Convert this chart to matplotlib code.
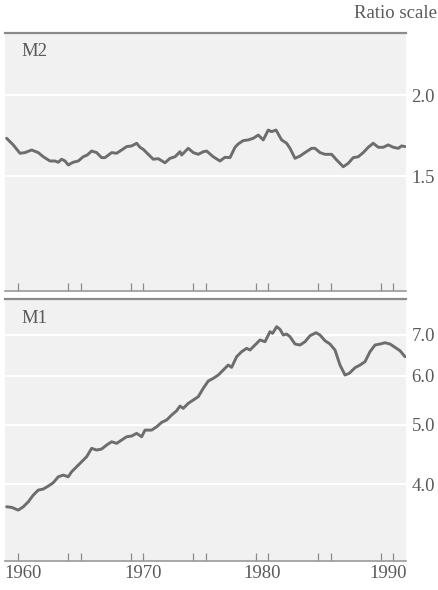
import matplotlib
matplotlib.use("Agg")
import matplotlib.pyplot as plt
from matplotlib.ticker import FixedLocator, NullFormatter, NullLocator

# Velocity of money, quarterly readings (ratio scale)
m2_years = [1959.07, 1959.60, 1960.14, 1960.54, 1961.07, 1961.60, 1962.00, 1962.54, 1962.94, 1963.20,
            1963.47, 1963.74, 1964.00, 1964.40, 1964.80, 1965.20, 1965.52, 1965.87, 1966.27, 1966.67,
            1966.94, 1967.47, 1967.87, 1968.27, 1968.67, 1969.07, 1969.47, 1969.74, 1970.00, 1970.40,
            1970.80, 1971.20, 1971.74, 1972.14, 1972.54, 1972.94, 1973.07, 1973.60, 1974.00, 1974.40,
            1974.80, 1975.07, 1975.60, 1976.14, 1976.54, 1976.94, 1977.34, 1977.60, 1978.00, 1978.40,
            1978.80, 1979.20, 1979.60, 1980.00, 1980.27, 1980.62, 1981.07, 1981.47, 1981.74, 1982.14,
            1982.54, 1982.94, 1983.47, 1983.74, 1984.14, 1984.54, 1985.07, 1985.47, 1986.00, 1986.40,
            1986.80, 1987.20, 1987.60, 1988.00, 1988.40, 1988.80, 1989.20, 1989.60, 1990.00, 1990.40,
            1990.67, 1990.94]
m2_velocity = [1.717, 1.677, 1.628, 1.632, 1.647, 1.632, 1.608, 1.584, 1.584, 1.577,
               1.594, 1.584, 1.562, 1.577, 1.584, 1.608, 1.618, 1.641, 1.632, 1.603,
               1.603, 1.632, 1.628, 1.647, 1.667, 1.671, 1.687, 1.663, 1.651, 1.622,
               1.594, 1.597, 1.574, 1.599, 1.608, 1.637, 1.618, 1.657, 1.632, 1.622,
               1.637, 1.641, 1.608, 1.584, 1.605, 1.603, 1.663, 1.683, 1.703, 1.707,
               1.717, 1.737, 1.707, 1.768, 1.758, 1.768, 1.707, 1.687, 1.657, 1.599,
               1.612, 1.632, 1.657, 1.657, 1.632, 1.622, 1.622, 1.590, 1.552, 1.571,
               1.603, 1.608, 1.632, 1.663, 1.687, 1.663, 1.663, 1.677, 1.663, 1.657,
               1.671, 1.667]

m1_years = [1959.07, 1959.47, 1960.00, 1960.40, 1960.80, 1961.20, 1961.60, 1962.00, 1962.40, 1962.80,
            1963.20, 1963.60, 1964.00, 1964.27, 1964.67, 1965.07, 1965.47, 1965.87, 1966.27, 1966.67,
            1967.07, 1967.47, 1967.87, 1968.27, 1968.67, 1969.07, 1969.47, 1969.87, 1970.14, 1970.67,
            1971.07, 1971.47, 1971.87, 1972.27, 1972.67, 1972.94, 1973.20, 1973.60, 1974.00, 1974.40,
            1974.80, 1975.20, 1975.60, 1976.00, 1976.40, 1976.80, 1977.07, 1977.47, 1977.87, 1978.27,
            1978.54, 1978.94, 1979.34, 1979.74, 1980.14, 1980.35, 1980.67, 1980.94, 1981.20, 1981.47,
            1981.74, 1982.14, 1982.54, 1982.94, 1983.34, 1983.82, 1984.14, 1984.54, 1984.94, 1985.34,
            1985.74, 1986.14, 1986.48, 1986.94, 1987.34, 1987.74, 1988.14, 1988.54, 1988.94, 1989.34,
            1989.74, 1990.14, 1990.54, 1990.94]
m1_velocity = [3.675, 3.667, 3.630, 3.675, 3.744, 3.839, 3.912, 3.927, 3.971, 4.021,
               4.112, 4.138, 4.112, 4.190, 4.269, 4.350, 4.432, 4.574, 4.545, 4.562,
               4.631, 4.688, 4.660, 4.718, 4.777, 4.789, 4.838, 4.777, 4.897, 4.897,
               4.958, 5.041, 5.085, 5.181, 5.265, 5.359, 5.312, 5.413, 5.481, 5.549,
               5.726, 5.885, 5.944, 6.018, 6.132, 6.248, 6.194, 6.446, 6.567, 6.651,
               6.609, 6.734, 6.862, 6.818, 7.078, 7.035, 7.212, 7.142, 6.991, 7.017,
               6.946, 6.759, 6.734, 6.818, 6.972, 7.051, 6.991, 6.843, 6.759, 6.609,
               6.248, 6.018, 6.057, 6.185, 6.248, 6.326, 6.567, 6.734, 6.759, 6.792,
               6.759, 6.676, 6.592, 6.446]

m2_ticks = [1.5, 2.0]
m1_ticks = [4.0, 5.0, 6.0, 7.0]
year_marks = [1960, 1964, 1965, 1969, 1970, 1974, 1975, 1979, 1980, 1984, 1985, 1989, 1990]
year_labels = ["1960", "1970", "1980", "1990"]
year_label_pos = [1960.4, 1970.0, 1979.5, 1989.6]

SERIF = ["Liberation Serif", "DejaVu Serif"]
TEXT = "#5a5a5a"
LINE = "#6d6d6d"
PANEL = "#f1f1f1"
FS = 13.5

W, H = 439, 590
fig = plt.figure(figsize=(W / 100, H / 100), dpi=100)
fig.patch.set_facecolor("white")

left, right = 5, 406
ax_top = fig.add_axes([left / W, 1 - 290.5 / H, (right - left) / W, 258 / H])
ax_bot = fig.add_axes([left / W, 1 - 561 / H, (right - left) / W, 262 / H])


def style_panel(ax, years, values, ylim, yticks, name, show_years):
    ax.set_facecolor(PANEL)
    ax.set_yscale("log")
    ax.set_ylim(*ylim)
    ax.set_xlim(1958.94, 1991.02)
    for v in yticks:
        ax.axhline(v, color="white", lw=1.6, zorder=1)
    ax.plot(years, values, color=LINE, lw=2.1, solid_joinstyle="round",
            solid_capstyle="round", zorder=3)

    for s in ("left", "right"):
        ax.spines[s].set_visible(False)
    ax.spines["top"].set_color("#8a8a8a")
    ax.spines["top"].set_linewidth(1.6)
    ax.spines["bottom"].set_color("#9a9a9a")
    ax.spines["bottom"].set_linewidth(1.2)

    ax.yaxis.tick_right()
    ax.yaxis.set_major_locator(FixedLocator(yticks))
    ax.yaxis.set_minor_locator(NullLocator())
    ax.set_yticklabels([f"{v:.1f}" for v in yticks])
    ax.tick_params(axis="y", which="both", length=0, pad=4, labelsize=FS, labelcolor=TEXT)
    for t in ax.get_yticklabels():
        t.set_fontfamily(SERIF)

    ax.xaxis.remove_overlapping_locs = False
    ax.xaxis.set_major_locator(FixedLocator(year_marks))
    ax.xaxis.set_major_formatter(NullFormatter())
    ax.tick_params(axis="x", which="major", direction="in", length=6, width=0.9,
                   color="#8a8a8a")
    if show_years:
        ax.xaxis.set_minor_locator(FixedLocator(year_label_pos))
        ax.set_xticklabels(year_labels, minor=True)
        ax.tick_params(axis="x", which="minor", length=0, pad=3, labelsize=FS,
                       labelcolor=TEXT)
        for t in ax.get_xticklabels(minor=True):
            t.set_fontfamily(SERIF)
    else:
        ax.xaxis.set_minor_locator(NullLocator())

    ax.text(0.042, 0.925, name, transform=ax.transAxes, fontsize=FS,
            color=TEXT, family=SERIF, va="center", ha="left")


style_panel(ax_top, m2_years, m2_velocity, (1.0, 2.5), m2_ticks, "M2", False)
style_panel(ax_bot, m1_years, m1_velocity, (3.0, 8.0), m1_ticks, "M1", True)

fig.text(437 / W, 1 - 13 / H, "Ratio scale", ha="right", va="center",
         fontsize=FS, color=TEXT, family=SERIF)

fig.savefig("out.png", dpi=100, facecolor="white")
